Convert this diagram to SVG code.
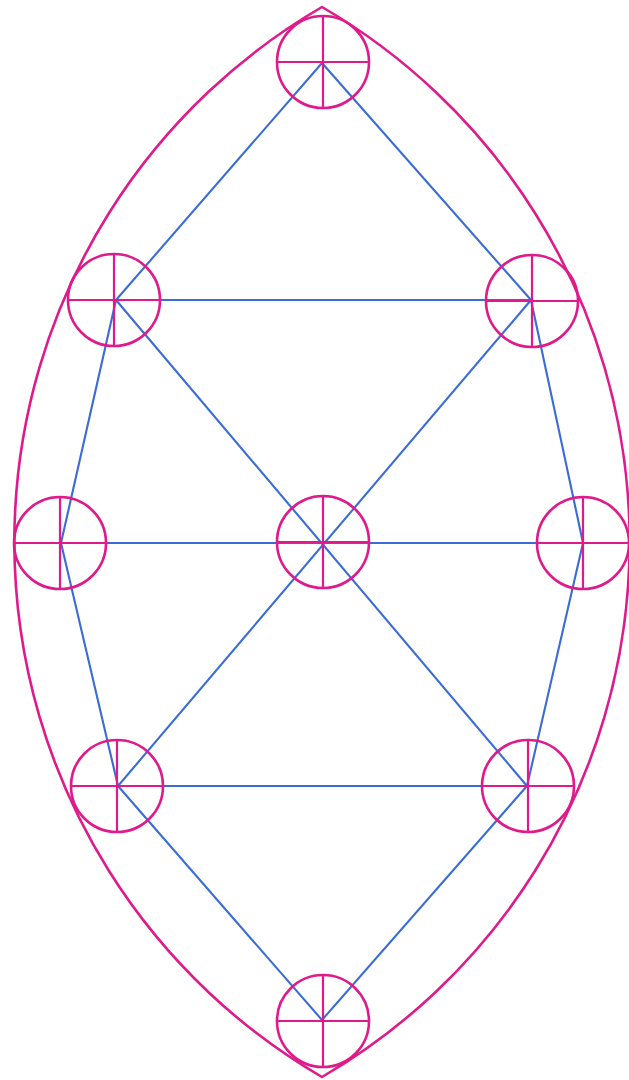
<svg xmlns="http://www.w3.org/2000/svg" width="629" height="1080" viewBox="0 0 629 1080">
<defs>
<style>
.m{fill:none;stroke:#df1b8b;stroke-width:2.6}
.x{stroke:#df1b8b;stroke-width:2.2}
.b{stroke:#3a6cd4;stroke-width:2.1;fill:none}
</style>
<g id="node-sym">
<circle class="m" cx="0" cy="0" r="46"/>
<line class="x" x1="-46" y1="0" x2="46" y2="0"/>
<line class="x" x1="0" y1="-46" x2="0" y2="46"/>
</g>
</defs>
<rect width="629" height="1080" fill="#ffffff"/>
<g id="outline">
<path class="m" d="M322,7 A619,619 0 0 0 322,1077 A619,619 0 0 0 322,7 Z"/>
</g>
<g id="connectors">
<line class="b" x1="322" y1="63" x2="116" y2="300"/>
<line class="b" x1="322" y1="63" x2="531" y2="300"/>
<line class="b" x1="116" y1="300" x2="531" y2="300"/>
<line class="b" x1="116" y1="300" x2="527" y2="786"/>
<line class="b" x1="531" y1="300" x2="118" y2="786"/>
<line class="b" x1="116" y1="300" x2="61" y2="543"/>
<line class="b" x1="531" y1="300" x2="583" y2="543"/>
<line class="b" x1="61" y1="543" x2="583" y2="543"/>
<line class="b" x1="61" y1="543" x2="118" y2="786"/>
<line class="b" x1="583" y1="543" x2="527" y2="786"/>
<line class="b" x1="118" y1="786" x2="527" y2="786"/>
<line class="b" x1="118" y1="786" x2="322" y2="1020"/>
<line class="b" x1="527" y1="786" x2="322" y2="1020"/>
</g>
<g id="node-top"><use href="#node-sym" x="323" y="62"/></g>
<g id="node-upper-left"><use href="#node-sym" x="114" y="300"/></g>
<g id="node-upper-right"><use href="#node-sym" x="532" y="301"/></g>
<g id="node-mid-left"><use href="#node-sym" x="60" y="543"/></g>
<g id="node-center"><use href="#node-sym" x="323" y="542"/></g>
<g id="node-mid-right"><use href="#node-sym" x="583" y="543"/></g>
<g id="node-lower-left"><use href="#node-sym" x="117" y="786"/></g>
<g id="node-lower-right"><use href="#node-sym" x="528" y="786"/></g>
<g id="node-bottom"><use href="#node-sym" x="323" y="1021"/></g>
</svg>
